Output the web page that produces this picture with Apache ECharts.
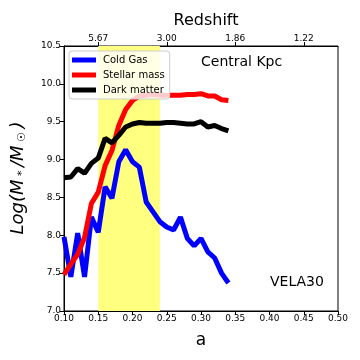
<!DOCTYPE html>
<html>
<head>
<meta charset="utf-8">
<script src="https://cdn.jsdelivr.net/npm/echarts@6/dist/echarts.min.js"></script>
<style>
  html, body { margin: 0; padding: 0; background: #fff; }
  #chart { width: 360px; height: 360px; }
</style>
</head>
<body>
<div id="chart"></div>
<script>
// expansion factor a
const aVals = [0.10, 0.11, 0.12, 0.13, 0.14, 0.15, 0.16, 0.17, 0.18, 0.19, 0.20, 0.21, 0.22,
  0.23, 0.24, 0.25, 0.26, 0.27, 0.28, 0.29, 0.30, 0.31, 0.32, 0.33, 0.34];
const coldGas = [7.98, 7.45, 8.03, 7.45, 8.24, 8.04, 8.64, 8.49, 8.97, 9.13, 8.97, 8.90, 8.44,
  8.31, 8.18, 8.11, 8.07, 8.24, 7.96, 7.86, 7.96, 7.78, 7.70, 7.50, 7.37];
const stellarMass = [7.48, 7.62, 7.75, 7.97, 8.42, 8.57, 8.92, 9.12, 9.45, 9.66, 9.78, 9.84, 9.85,
  9.86, 9.85, 9.85, 9.85, 9.85, 9.86, 9.86, 9.87, 9.84, 9.84, 9.79, 9.78];
const darkMatter = [8.76, 8.77, 8.88, 8.82, 8.95, 9.02, 9.28, 9.22, 9.32, 9.43, 9.47, 9.49, 9.48,
  9.48, 9.48, 9.49, 9.49, 9.48, 9.47, 9.47, 9.50, 9.43, 9.45, 9.41, 9.38];
// top axis: redshift ticks
const redshiftTicksA = [0.15, 0.25, 0.35, 0.45];
const redshiftLabels = ['5.67', '3.00', '1.86', '1.22'];
// shaded band
const bandRange = [0.15, 0.24];

const FONT = 'DejaVu Sans';
const toPairs = ys => ys.map((v, i) => [aVals[i], v]);

const chart = echarts.init(document.getElementById('chart'));

const lineSeries = (name, color, data, z) => ({
  name: name,
  type: 'line',
  data: toPairs(data),
  showSymbol: false,
  z: z,
  color: color,
  lineStyle: { color: color, width: 5 },
  xAxisIndex: 0,
  yAxisIndex: 0
});

const option = {
  backgroundColor: '#fff',
  animation: false,
  textStyle: { fontFamily: FONT },
  title: {
    text: 'Redshift',
    left: 201,
    textAlign: 'center',
    top: 8,
    textStyle: { fontFamily: FONT, fontSize: 16, fontWeight: 'normal', color: '#000' }
  },
  grid: {
    left: 64, right: 22, top: 46, bottom: 49,
    show: true, borderColor: '#000', borderWidth: 1, backgroundColor: 'transparent'
  },
  legend: {
    orient: 'vertical',
    left: 69, top: 51,
    padding: [4, 5, 4, 3],
    itemGap: 5,
    itemWidth: 24, itemHeight: 5,
    icon: 'rect',
    backgroundColor: 'rgba(255,255,255,0.8)',
    borderColor: '#ccc', borderWidth: 1, borderRadius: 3,
    textStyle: { fontFamily: FONT, fontSize: 10, color: '#000', padding: [0, 0, 0, 2] },
    data: ['Cold Gas', 'Stellar mass', 'Dark matter']
  },
  xAxis: [
    {
      type: 'value', position: 'bottom',
      min: 0.1, max: 0.5, interval: 0.05,
      name: 'a', nameLocation: 'middle', nameGap: 21,
      nameTextStyle: { fontFamily: FONT, fontSize: 17, color: '#000' },
      axisLine: { lineStyle: { color: '#000' } },
      axisTick: { inside: false, length: 4, lineStyle: { color: '#000' } },
      axisLabel: { fontFamily: FONT, fontSize: 9, color: '#000', margin: 3,
        formatter: v => v.toFixed(2) },
      splitLine: { show: false }
    },
    {
      type: 'value', position: 'top',
      min: 0.1, max: 0.5,
      axisLine: { lineStyle: { color: '#000' } },
      axisTick: { length: 4, lineStyle: { color: '#000' }, customValues: redshiftTicksA },
      axisLabel: { fontFamily: FONT, fontSize: 9, color: '#000', margin: 3,
        customValues: redshiftTicksA,
        formatter: v => {
          const i = redshiftTicksA.findIndex(t => Math.abs(t - v) < 1e-6);
          return i >= 0 ? redshiftLabels[i] : '';
        } },
      splitLine: { show: false }
    }
  ],
  yAxis: {
    type: 'value',
    min: 7.0, max: 10.5, interval: 0.5,
    axisLine: { show: true, lineStyle: { color: '#000' } },
    axisTick: { show: true, length: 4, lineStyle: { color: '#000' } },
    axisLabel: { fontFamily: FONT, fontSize: 9, color: '#000', margin: 3,
      formatter: v => v.toFixed(1) },
    splitLine: { show: false }
  },
  series: [
    {
      name: 'band',
      type: 'line',
      data: [],
      z: 1,
      silent: true,
      markArea: {
        silent: true,
        itemStyle: { color: '#ffff80', opacity: 1 },
        data: [[{ xAxis: bandRange[0] }, { xAxis: bandRange[1] }]]
      }
    },
    lineSeries('Cold Gas', '#0000ff', coldGas, 2),
    lineSeries('Stellar mass', '#ff0000', stellarMass, 3),
    lineSeries('Dark matter', '#000000', darkMatter, 4)
  ],
  graphic: [
    {
      type: 'text', left: 201, top: 55,
      style: { text: 'Central Kpc', fontFamily: FONT, fontSize: 14, fill: '#000' }
    },
    {
      type: 'text', left: 270, top: 275,
      style: { text: 'VELA30', fontFamily: FONT, fontSize: 14, fill: '#000' }
    },
    {
      // y axis title, rotated
      type: 'text', x: 18, y: 178, rotation: Math.PI / 2,
      style: {
        text: '{i|Log(M}{s| * }{i|/M}{s| ☉ }{i|)}',
        align: 'center', verticalAlign: 'middle',
        rich: {
          i: { fontFamily: FONT, fontSize: 18, fontStyle: 'italic', fill: '#000' },
          s: { fontFamily: FONT, fontSize: 11, fontStyle: 'italic', fill: '#000', padding: [9, 0, 0, 0] }
        }
      }
    }
  ]
};

chart.setOption(option);
</script>
</body>
</html>
